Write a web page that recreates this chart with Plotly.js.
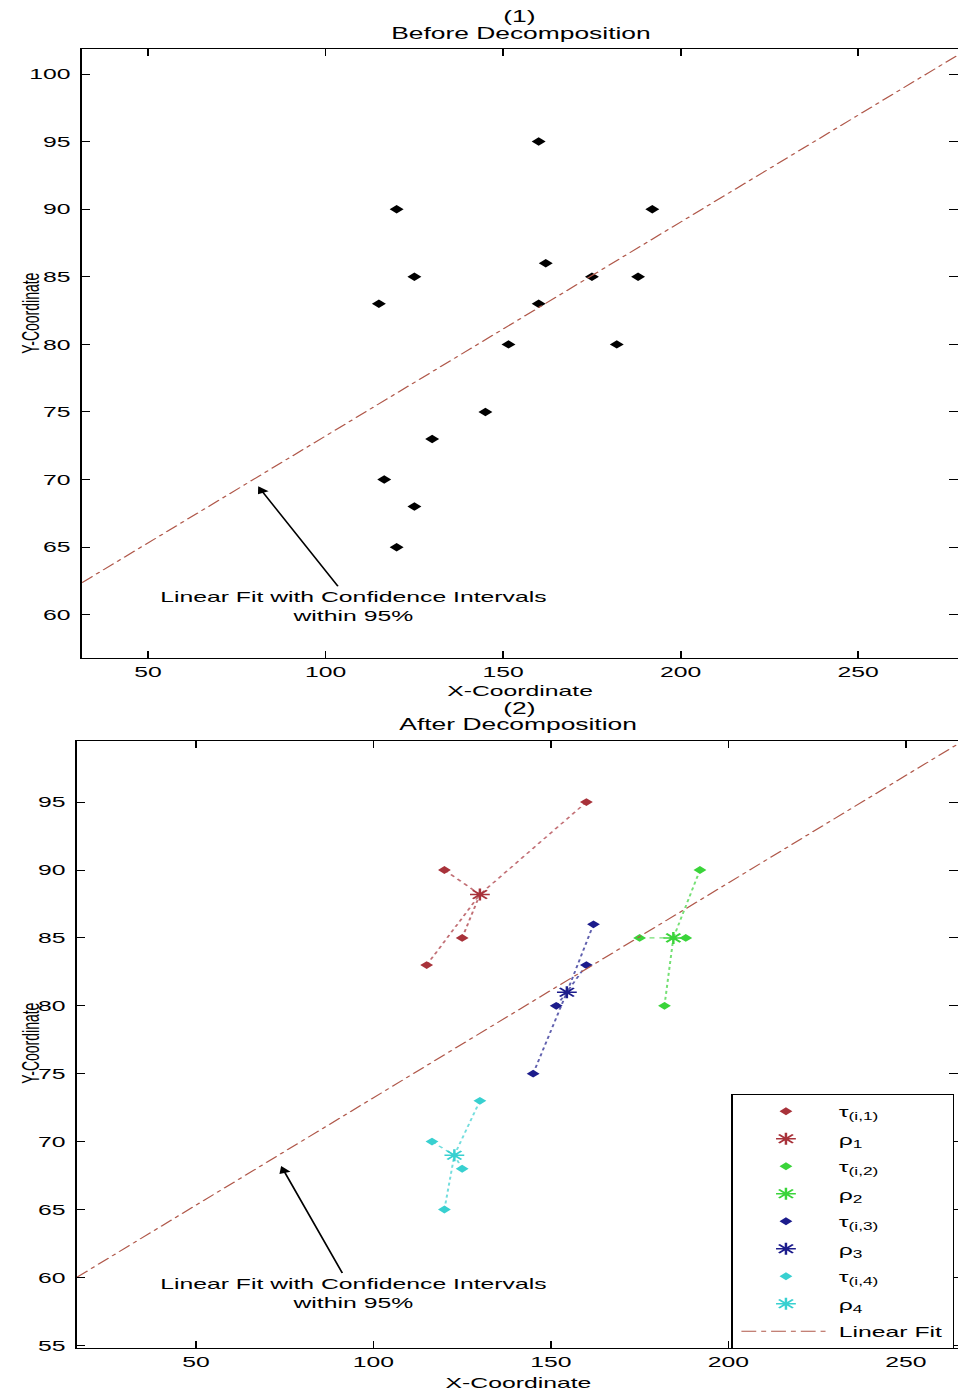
<!DOCTYPE html>
<html>
<head>
<meta charset="utf-8">
<script src="https://cdn.plot.ly/plotly-3.0.1.min.js"></script>
<style>
html,body{margin:0;padding:0;background:#fff;overflow:hidden;}
#wrap{width:958px;height:1393px;overflow:hidden;position:relative;}
/* the reference figure is drawn horizontally stretched; reproduce that aspect */
#chart{width:581px;height:1393px;transform:scaleX(1.65);transform-origin:0 0;}
</style>
</head>
<body>
<div id="wrap"><div id="chart"></div></div>
<script>
// ---- data ----
const pointsX = [160,120,192,125,162,175,188,115,160,151.5,182,145,130,116.5,125,120];
const pointsY = [95,90,90,85,86,85,85,83,83,80,80,75,73,70,68,65];

const tau1X = [160,120,125,115];   const tau1Y = [95,90,85,83];
const tau2X = [192,175,188,182];   const tau2Y = [90,85,85,80];
const tau3X = [162,160,151.5,145]; const tau3Y = [86,83,80,75];
const tau4X = [130,116.5,125,120]; const tau4Y = [73,70,68,65];
const centerX = [130,184.5,154.5,122.8];
const centerY = [88.2,85,81,69];

const tauNames = ['τ<sub>(i,1)</sub>','τ<sub>(i,2)</sub>','τ<sub>(i,3)</sub>','τ<sub>(i,4)</sub>'];
const centerNames = ['ρ<sub>1</sub>','ρ<sub>2</sub>','ρ<sub>3</sub>','ρ<sub>4</sub>'];
const clusterColors = ['#a8323a','#3ad43a','#1c1c8c','#38d0d0'];

const xTicks = [50,100,150,200,250];
const yTicksTop = [60,65,70,75,80,85,90,95,100];
const yTicksBottom = [55,60,65,70,75,80,85,90,95];

const xRangeTop = [31.4,278];
const yRangeTop = [56.8,101.85];
const xRangeBottom = [16.5,264.6];
const yRangeBottom = [54.8,99.5];

// ---- least-squares line through the points ----
function fit(xs, ys){
  const n = xs.length;
  const mx = xs.reduce((a,b)=>a+b,0)/n, my = ys.reduce((a,b)=>a+b,0)/n;
  let sxy=0,sxx=0;
  for(let i=0;i<n;i++){sxy+=(xs[i]-mx)*(ys[i]-my);sxx+=(xs[i]-mx)*(xs[i]-mx);}
  const b = sxy/sxx, a = my-b*mx;
  return x=>a+b*x;
}
const f = fit(pointsX, pointsY);
const fitColor = '#b0584a';

const traces = [];
traces.push({x:pointsX,y:pointsY,mode:'markers',type:'scatter',xaxis:'x',yaxis:'y',
  marker:{symbol:'diamond',size:6.5,color:'#000'},showlegend:false});
traces.push({x:xRangeTop,y:xRangeTop.map(f),mode:'lines',type:'scatter',xaxis:'x',yaxis:'y',
  line:{color:fitColor,width:1,dash:'dashdot'},showlegend:false});

const tauX=[tau1X,tau2X,tau3X,tau4X], tauY=[tau1Y,tau2Y,tau3Y,tau4Y];
for(let k=0;k<4;k++){
  const cx=[],cy=[];
  for(let i=0;i<tauX[k].length;i++){cx.push(tauX[k][i],centerX[k],null);cy.push(tauY[k][i],centerY[k],null);}
  traces.push({x:cx,y:cy,mode:'lines',type:'scatter',xaxis:'x2',yaxis:'y2',
    line:{color:clusterColors[k],width:1.2,dash:'dot'},opacity:0.7,showlegend:false,hoverinfo:'skip'});
}
for(let k=0;k<4;k++){
  traces.push({x:tauX[k],y:tauY[k],mode:'markers',type:'scatter',xaxis:'x2',yaxis:'y2',name:tauNames[k],
    legendgroup:'t'+k,marker:{symbol:'diamond',size:6,color:clusterColors[k]}});
  traces.push({x:[centerX[k]],y:[centerY[k]],mode:'markers',type:'scatter',xaxis:'x2',yaxis:'y2',name:centerNames[k],
    legendgroup:'p'+k,marker:{symbol:'asterisk-open',size:10,color:clusterColors[k],line:{color:clusterColors[k],width:1.5}}});
}
traces.push({x:xRangeBottom,y:xRangeBottom.map(f),mode:'lines',type:'scatter',xaxis:'x2',yaxis:'y2',name:'Linear Fit',
  legendgroup:'fit',line:{color:fitColor,width:1,dash:'dashdot'}});

const FONT = 'Liberation Sans, Arial, sans-serif';
const tickFont = {family:FONT,size:15,color:'#000'};
function axis(extra){
  return Object.assign({showline:true,linecolor:'#000',linewidth:1,mirror:'ticks',ticks:'inside',
    tickcolor:'#000',showgrid:false,zeroline:false,tickfont:tickFont,fixedrange:true},extra);
}
function label(x,y,text,size,extra){
  return Object.assign({xref:'paper',yref:'paper',x:x,y:y,xanchor:'center',yanchor:'middle',text:text,
    showarrow:false,font:{size:size}},extra||{});
}
const PW=958,H=1393;   // reference pixel frame
const layout = {
  width:581,height:H,margin:{l:0,r:0,t:0,b:0},paper_bgcolor:'#fff',plot_bgcolor:'#fff',
  font:{family:FONT,size:15,color:'#000'},
  xaxis:axis({domain:[82/PW,957/PW],range:xRangeTop,tickvals:xTicks,anchor:'y',ticklen:7,ticklabelstandoff:0}),
  yaxis:axis({domain:[1-658/H,1-49/H],range:yRangeTop,tickvals:yTicksTop,anchor:'x',ticklen:5,ticklabelstandoff:3}),
  xaxis2:axis({domain:[77/PW,957/PW],range:xRangeBottom,tickvals:xTicks,anchor:'y2',ticklen:7,ticklabelstandoff:0}),
  yaxis2:axis({domain:[1-1348/H,1-741/H],range:yRangeBottom,tickvals:yTicksBottom,anchor:'x2',ticklen:5,ticklabelstandoff:3}),
  showlegend:true,
  legend:{x:731/PW,y:1-1094/H,xanchor:'left',yanchor:'top',bgcolor:'#fff',bordercolor:'#000',borderwidth:1,
    font:{family:FONT,size:15,color:'#000'},itemwidth:54,tracegroupgap:5,traceorder:'grouped'},
  annotations:[
    label(520/PW,1-16/H,'(1)',16),
    label(521/PW,1-33/H,'Before Decomposition',16),
    label(520/PW,1-690/H,'X-Coordinate',15),
    label(31/PW,1-313/H,'Y-Coordinate',14,{textangle:-90}),
    label(520/PW,1-708/H,'(2)',16),
    label(517/PW,1-724/H,'After Decomposition',16),
    label(517/PW,1-1382/H,'X-Coordinate',15),
    label(31/PW,1-1043/H,'Y-Coordinate',14,{textangle:-90}),
    {xref:'x',yref:'y',x:81,y:69.5,ax:58,ay:120,text:'Linear Fit with Confidence Intervals<br>within 95%',
      showarrow:true,arrowhead:2,arrowsize:1.3,arrowwidth:1.1,arrowcolor:'#000',font:{size:15}},
    {xref:'x2',yref:'y2',x:74,y:68.2,ax:44,ay:127,text:'Linear Fit with Confidence Intervals<br>within 95%',
      showarrow:true,arrowhead:2,arrowsize:1.3,arrowwidth:1.1,arrowcolor:'#000',font:{size:15}}
  ]
};
Plotly.newPlot('chart',traces,layout,{displayModeBar:false,staticPlot:true});
</script>
</body>
</html>
